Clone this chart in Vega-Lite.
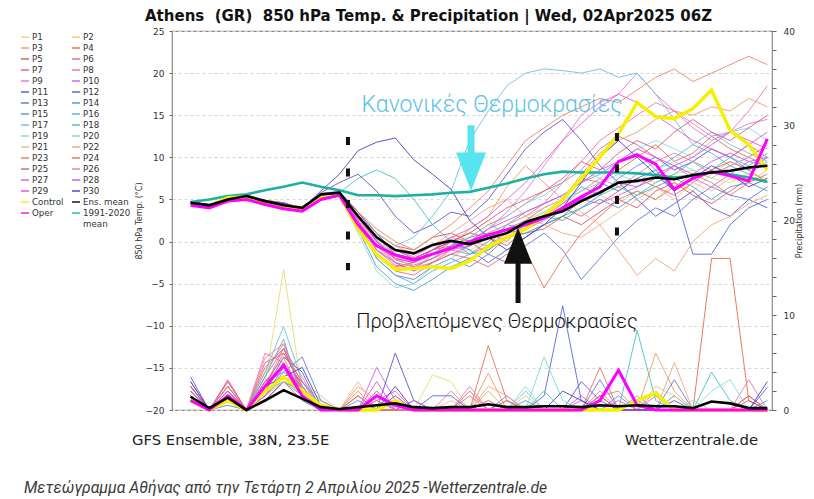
{
"$schema":"https://vega.github.io/schema/vega-lite/v6.json",
"width":600,"height":379,
"autosize":"none",
"padding":{"left":172,"top":31,"right":42,"bottom":89},
"background":"#ffffff",
"config":{"view":{"stroke":"#8a8a8a","strokeWidth":1.2},"font":"DejaVu Sans","axis":{"labelFont":"DejaVu Sans","titleFont":"DejaVu Sans","labelColor":"#333333","titleColor":"#333333","titleFontWeight":"normal","domain":false,"tickColor":"#666666"}},
"title":{"text":"Athens\u00a0 (GR)\u00a0 850 hPa Temp. & Precipitation | Wed, 02Apr2025 06Z","frame":"group","anchor":"start","dx":-27,"offset":3,"fontSize":15,"fontWeight":"bold","font":"DejaVu Sans","color":"#111111"},
"datasets":{
"ens":[
{"s":"P1","h":12,"t":4.5,"p":1.5},{"s":"P1","h":24,"t":4.2,"p":0},{"s":"P1","h":36,"t":5.1,"p":1},{"s":"P1","h":48,"t":5.3,"p":0},{"s":"P1","h":60,"t":4.9,"p":3},{"s":"P1","h":72,"t":4.4,"p":14.8},{"s":"P1","h":84,"t":3.9,"p":2},{"s":"P1","h":96,"t":5.5,"p":0.5},{"s":"P1","h":108,"t":5.7,"p":0},{"s":"P1","h":120,"t":2.5,"p":0},{"s":"P1","h":132,"t":-1,"p":0},{"s":"P1","h":144,"t":-2.5,"p":0},{"s":"P1","h":156,"t":-3,"p":0},{"s":"P1","h":168,"t":-2,"p":3.7},{"s":"P1","h":180,"t":-1.5,"p":3},{"s":"P1","h":192,"t":-1,"p":0},{"s":"P1","h":204,"t":0,"p":0},{"s":"P1","h":216,"t":1.5,"p":0},{"s":"P1","h":228,"t":2.5,"p":0},{"s":"P1","h":240,"t":3,"p":0},{"s":"P1","h":252,"t":4,"p":0},{"s":"P1","h":264,"t":5,"p":0},{"s":"P1","h":276,"t":6,"p":0},{"s":"P1","h":288,"t":6.5,"p":0},{"s":"P1","h":300,"t":7.5,"p":0},{"s":"P1","h":312,"t":7,"p":0},{"s":"P1","h":324,"t":8,"p":0},{"s":"P1","h":336,"t":8.5,"p":0},{"s":"P1","h":348,"t":7.5,"p":0},{"s":"P1","h":360,"t":7,"p":0},{"s":"P1","h":372,"t":8,"p":0},{"s":"P1","h":384,"t":7.5,"p":0},
{"s":"P2","h":12,"t":4.7,"p":2},{"s":"P2","h":24,"t":4.4,"p":0},{"s":"P2","h":36,"t":5,"p":2},{"s":"P2","h":48,"t":5.5,"p":0},{"s":"P2","h":60,"t":4.7,"p":2},{"s":"P2","h":72,"t":4.6,"p":4},{"s":"P2","h":84,"t":3.7,"p":3},{"s":"P2","h":96,"t":5.7,"p":1},{"s":"P2","h":108,"t":5.9,"p":0},{"s":"P2","h":120,"t":3.5,"p":2},{"s":"P2","h":132,"t":0.5,"p":0},{"s":"P2","h":144,"t":-2,"p":0},{"s":"P2","h":156,"t":-2.5,"p":0},{"s":"P2","h":168,"t":-1,"p":0},{"s":"P2","h":180,"t":0.5,"p":0},{"s":"P2","h":192,"t":1,"p":0},{"s":"P2","h":204,"t":2.5,"p":2},{"s":"P2","h":216,"t":0.5,"p":0},{"s":"P2","h":228,"t":2,"p":1.5},{"s":"P2","h":240,"t":3.5,"p":0},{"s":"P2","h":252,"t":2.5,"p":0},{"s":"P2","h":264,"t":4,"p":0},{"s":"P2","h":276,"t":5.5,"p":0},{"s":"P2","h":288,"t":4.5,"p":0},{"s":"P2","h":300,"t":6,"p":0},{"s":"P2","h":312,"t":5,"p":1.5},{"s":"P2","h":324,"t":7,"p":0},{"s":"P2","h":336,"t":6,"p":0},{"s":"P2","h":348,"t":8,"p":0},{"s":"P2","h":360,"t":9.5,"p":0},{"s":"P2","h":372,"t":8.5,"p":0},{"s":"P2","h":384,"t":10,"p":0},
{"s":"P3","h":12,"t":4.6,"p":1},{"s":"P3","h":24,"t":4.3,"p":0},{"s":"P3","h":36,"t":5.2,"p":1.5},{"s":"P3","h":48,"t":5.4,"p":0},{"s":"P3","h":60,"t":4.8,"p":4},{"s":"P3","h":72,"t":4.3,"p":7},{"s":"P3","h":84,"t":4,"p":2.5},{"s":"P3","h":96,"t":5.6,"p":0},{"s":"P3","h":108,"t":5.8,"p":0},{"s":"P3","h":120,"t":3,"p":2.5},{"s":"P3","h":132,"t":0,"p":1},{"s":"P3","h":144,"t":-2.5,"p":0},{"s":"P3","h":156,"t":-3.5,"p":0},{"s":"P3","h":168,"t":-1.5,"p":0},{"s":"P3","h":180,"t":-0.5,"p":0},{"s":"P3","h":192,"t":1.5,"p":0},{"s":"P3","h":204,"t":3,"p":3.9},{"s":"P3","h":216,"t":6.5,"p":0},{"s":"P3","h":228,"t":9,"p":0},{"s":"P3","h":240,"t":7,"p":0},{"s":"P3","h":252,"t":5,"p":0},{"s":"P3","h":264,"t":8,"p":0},{"s":"P3","h":276,"t":10.5,"p":0},{"s":"P3","h":288,"t":12,"p":0},{"s":"P3","h":300,"t":13,"p":0},{"s":"P3","h":312,"t":14.5,"p":6},{"s":"P3","h":324,"t":15.5,"p":2},{"s":"P3","h":336,"t":15,"p":0},{"s":"P3","h":348,"t":16,"p":0},{"s":"P3","h":360,"t":15.5,"p":0},{"s":"P3","h":372,"t":17,"p":0},{"s":"P3","h":384,"t":16,"p":0},
{"s":"P4","h":12,"t":4.5,"p":2},{"s":"P4","h":24,"t":4.4,"p":0},{"s":"P4","h":36,"t":4.9,"p":2.5},{"s":"P4","h":48,"t":5.3,"p":0},{"s":"P4","h":60,"t":4.9,"p":1},{"s":"P4","h":72,"t":4.6,"p":3},{"s":"P4","h":84,"t":3.9,"p":1},{"s":"P4","h":96,"t":5.5,"p":0},{"s":"P4","h":108,"t":5.9,"p":0},{"s":"P4","h":120,"t":2,"p":0},{"s":"P4","h":132,"t":-1.5,"p":0},{"s":"P4","h":144,"t":-3,"p":0},{"s":"P4","h":156,"t":-2.5,"p":0},{"s":"P4","h":168,"t":-1,"p":0},{"s":"P4","h":180,"t":0,"p":0},{"s":"P4","h":192,"t":-0.5,"p":0},{"s":"P4","h":204,"t":1,"p":0},{"s":"P4","h":216,"t":0,"p":0},{"s":"P4","h":228,"t":2.5,"p":0},{"s":"P4","h":240,"t":4,"p":0},{"s":"P4","h":252,"t":5,"p":0},{"s":"P4","h":264,"t":7.5,"p":0},{"s":"P4","h":276,"t":7,"p":1.5},{"s":"P4","h":288,"t":8.5,"p":0},{"s":"P4","h":300,"t":10,"p":0},{"s":"P4","h":312,"t":11.5,"p":0},{"s":"P4","h":324,"t":9.5,"p":0},{"s":"P4","h":336,"t":10.5,"p":0},{"s":"P4","h":348,"t":12.5,"p":16},{"s":"P4","h":360,"t":11,"p":16},{"s":"P4","h":372,"t":10,"p":1},{"s":"P4","h":384,"t":11.5,"p":0},
{"s":"P5","h":12,"t":4.7,"p":2.5},{"s":"P5","h":24,"t":4.3,"p":0},{"s":"P5","h":36,"t":5,"p":2},{"s":"P5","h":48,"t":5.6,"p":0},{"s":"P5","h":60,"t":4.8,"p":2},{"s":"P5","h":72,"t":4.5,"p":5},{"s":"P5","h":84,"t":3.8,"p":1.5},{"s":"P5","h":96,"t":5.7,"p":0},{"s":"P5","h":108,"t":5.8,"p":0},{"s":"P5","h":120,"t":3.5,"p":0},{"s":"P5","h":132,"t":1,"p":0},{"s":"P5","h":144,"t":-0.5,"p":0},{"s":"P5","h":156,"t":-1,"p":0},{"s":"P5","h":168,"t":0.5,"p":0},{"s":"P5","h":180,"t":1,"p":0},{"s":"P5","h":192,"t":0,"p":0},{"s":"P5","h":204,"t":-1.5,"p":1},{"s":"P5","h":216,"t":0.5,"p":0},{"s":"P5","h":228,"t":1,"p":0},{"s":"P5","h":240,"t":1.5,"p":0},{"s":"P5","h":252,"t":3,"p":0},{"s":"P5","h":264,"t":2,"p":0},{"s":"P5","h":276,"t":3.5,"p":1.5},{"s":"P5","h":288,"t":5,"p":0},{"s":"P5","h":300,"t":4,"p":0},{"s":"P5","h":312,"t":6,"p":0},{"s":"P5","h":324,"t":7,"p":0},{"s":"P5","h":336,"t":5.5,"p":0},{"s":"P5","h":348,"t":4.5,"p":0},{"s":"P5","h":360,"t":6,"p":0},{"s":"P5","h":372,"t":7.5,"p":1},{"s":"P5","h":384,"t":7,"p":0},
{"s":"P6","h":12,"t":4.6,"p":1.5},{"s":"P6","h":24,"t":4.2,"p":0},{"s":"P6","h":36,"t":5.1,"p":3},{"s":"P6","h":48,"t":5.4,"p":0},{"s":"P6","h":60,"t":4.7,"p":3.5},{"s":"P6","h":72,"t":4.4,"p":6.5},{"s":"P6","h":84,"t":3.6,"p":2},{"s":"P6","h":96,"t":5.6,"p":0},{"s":"P6","h":108,"t":5.7,"p":0},{"s":"P6","h":120,"t":2.8,"p":0},{"s":"P6","h":132,"t":0,"p":2},{"s":"P6","h":144,"t":-1.5,"p":0},{"s":"P6","h":156,"t":-2,"p":0},{"s":"P6","h":168,"t":-1,"p":0},{"s":"P6","h":180,"t":-0.5,"p":0},{"s":"P6","h":192,"t":0.5,"p":1.5},{"s":"P6","h":204,"t":2,"p":0},{"s":"P6","h":216,"t":3,"p":0},{"s":"P6","h":228,"t":4.5,"p":0},{"s":"P6","h":240,"t":6,"p":0},{"s":"P6","h":252,"t":7,"p":0},{"s":"P6","h":264,"t":8.5,"p":0},{"s":"P6","h":276,"t":11,"p":0},{"s":"P6","h":288,"t":12.5,"p":0},{"s":"P6","h":300,"t":11.5,"p":1},{"s":"P6","h":312,"t":10,"p":0},{"s":"P6","h":324,"t":8.5,"p":0},{"s":"P6","h":336,"t":9.5,"p":0},{"s":"P6","h":348,"t":11,"p":0},{"s":"P6","h":360,"t":10,"p":0},{"s":"P6","h":372,"t":11.5,"p":0},{"s":"P6","h":384,"t":10,"p":0},
{"s":"P7","h":12,"t":4.4,"p":2},{"s":"P7","h":24,"t":4.3,"p":0},{"s":"P7","h":36,"t":5,"p":2.5},{"s":"P7","h":48,"t":5.3,"p":0},{"s":"P7","h":60,"t":4.8,"p":5},{"s":"P7","h":72,"t":4.6,"p":6},{"s":"P7","h":84,"t":3.9,"p":3},{"s":"P7","h":96,"t":5.5,"p":0.5},{"s":"P7","h":108,"t":5.6,"p":0},{"s":"P7","h":120,"t":2.5,"p":1.5},{"s":"P7","h":132,"t":-0.5,"p":0},{"s":"P7","h":144,"t":-2,"p":0},{"s":"P7","h":156,"t":-2.5,"p":0},{"s":"P7","h":168,"t":-1.5,"p":0},{"s":"P7","h":180,"t":0,"p":0},{"s":"P7","h":192,"t":1,"p":0},{"s":"P7","h":204,"t":0.5,"p":0},{"s":"P7","h":216,"t":-0.5,"p":1},{"s":"P7","h":228,"t":1.5,"p":0},{"s":"P7","h":240,"t":3,"p":0},{"s":"P7","h":252,"t":4,"p":0},{"s":"P7","h":264,"t":3,"p":0},{"s":"P7","h":276,"t":4.5,"p":0},{"s":"P7","h":288,"t":6,"p":0},{"s":"P7","h":300,"t":7.5,"p":0},{"s":"P7","h":312,"t":6.5,"p":0},{"s":"P7","h":324,"t":5.5,"p":0},{"s":"P7","h":336,"t":7,"p":0},{"s":"P7","h":348,"t":8.5,"p":0},{"s":"P7","h":360,"t":9.5,"p":0},{"s":"P7","h":372,"t":8.5,"p":1.5},{"s":"P7","h":384,"t":7,"p":0},
{"s":"P8","h":12,"t":4.7,"p":3},{"s":"P8","h":24,"t":4.4,"p":0},{"s":"P8","h":36,"t":5.1,"p":3.2},{"s":"P8","h":48,"t":5.5,"p":0},{"s":"P8","h":60,"t":4.9,"p":6},{"s":"P8","h":72,"t":4.5,"p":5},{"s":"P8","h":84,"t":3.7,"p":2},{"s":"P8","h":96,"t":5.6,"p":0},{"s":"P8","h":108,"t":5.8,"p":0},{"s":"P8","h":120,"t":3.2,"p":0},{"s":"P8","h":132,"t":0.2,"p":0},{"s":"P8","h":144,"t":-2.2,"p":0},{"s":"P8","h":156,"t":-2.8,"p":0},{"s":"P8","h":168,"t":-2,"p":0},{"s":"P8","h":180,"t":-1,"p":2},{"s":"P8","h":192,"t":-1.5,"p":0},{"s":"P8","h":204,"t":-0.5,"p":0},{"s":"P8","h":216,"t":2,"p":0},{"s":"P8","h":228,"t":3,"p":0},{"s":"P8","h":240,"t":4.5,"p":0},{"s":"P8","h":252,"t":7,"p":0},{"s":"P8","h":264,"t":9.5,"p":0},{"s":"P8","h":276,"t":12,"p":2},{"s":"P8","h":288,"t":13.5,"p":0},{"s":"P8","h":300,"t":15,"p":0},{"s":"P8","h":312,"t":16.5,"p":0},{"s":"P8","h":324,"t":15.5,"p":0},{"s":"P8","h":336,"t":13.5,"p":0},{"s":"P8","h":348,"t":12,"p":0},{"s":"P8","h":360,"t":13,"p":0},{"s":"P8","h":372,"t":15.5,"p":3.2},{"s":"P8","h":384,"t":18.5,"p":0},
{"s":"P9","h":12,"t":4.6,"p":1},{"s":"P9","h":24,"t":4.3,"p":0},{"s":"P9","h":36,"t":4.9,"p":1.5},{"s":"P9","h":48,"t":5.4,"p":0},{"s":"P9","h":60,"t":4.8,"p":2.5},{"s":"P9","h":72,"t":4.5,"p":6.5},{"s":"P9","h":84,"t":3.8,"p":3.5},{"s":"P9","h":96,"t":5.7,"p":0},{"s":"P9","h":108,"t":5.9,"p":0},{"s":"P9","h":120,"t":3,"p":0},{"s":"P9","h":132,"t":0.5,"p":0},{"s":"P9","h":144,"t":-1,"p":1.5},{"s":"P9","h":156,"t":-1.8,"p":0},{"s":"P9","h":168,"t":-0.5,"p":0},{"s":"P9","h":180,"t":0.5,"p":0},{"s":"P9","h":192,"t":0,"p":0},{"s":"P9","h":204,"t":1.5,"p":0},{"s":"P9","h":216,"t":3.5,"p":0},{"s":"P9","h":228,"t":6,"p":0},{"s":"P9","h":240,"t":9,"p":0},{"s":"P9","h":252,"t":12,"p":0},{"s":"P9","h":264,"t":15,"p":0},{"s":"P9","h":276,"t":16.5,"p":0},{"s":"P9","h":288,"t":17.5,"p":0},{"s":"P9","h":300,"t":20,"p":0},{"s":"P9","h":312,"t":17.5,"p":2},{"s":"P9","h":324,"t":15.5,"p":0},{"s":"P9","h":336,"t":14,"p":0},{"s":"P9","h":348,"t":12.5,"p":0},{"s":"P9","h":360,"t":13,"p":0},{"s":"P9","h":372,"t":14,"p":0},{"s":"P9","h":384,"t":14.5,"p":0},
{"s":"P10","h":12,"t":4.5,"p":1.5},{"s":"P10","h":24,"t":4.4,"p":0},{"s":"P10","h":36,"t":5,"p":1},{"s":"P10","h":48,"t":5.2,"p":0},{"s":"P10","h":60,"t":4.9,"p":1.5},{"s":"P10","h":72,"t":4.4,"p":4},{"s":"P10","h":84,"t":3.8,"p":2.5},{"s":"P10","h":96,"t":5.5,"p":0},{"s":"P10","h":108,"t":5.7,"p":0},{"s":"P10","h":120,"t":2.2,"p":0},{"s":"P10","h":132,"t":-1,"p":4.5},{"s":"P10","h":144,"t":-2.8,"p":1},{"s":"P10","h":156,"t":-3.2,"p":0},{"s":"P10","h":168,"t":-2.5,"p":0},{"s":"P10","h":180,"t":-1,"p":0},{"s":"P10","h":192,"t":-0.5,"p":0},{"s":"P10","h":204,"t":0.5,"p":0},{"s":"P10","h":216,"t":1.5,"p":0},{"s":"P10","h":228,"t":2.5,"p":0},{"s":"P10","h":240,"t":3,"p":0},{"s":"P10","h":252,"t":4,"p":0},{"s":"P10","h":264,"t":5,"p":1},{"s":"P10","h":276,"t":4.5,"p":0},{"s":"P10","h":288,"t":5.5,"p":0},{"s":"P10","h":300,"t":6.5,"p":0},{"s":"P10","h":312,"t":8,"p":0},{"s":"P10","h":324,"t":9,"p":0},{"s":"P10","h":336,"t":7.5,"p":0},{"s":"P10","h":348,"t":6.5,"p":0},{"s":"P10","h":360,"t":8,"p":0},{"s":"P10","h":372,"t":9.5,"p":0},{"s":"P10","h":384,"t":9,"p":0},
{"s":"P11","h":12,"t":4.7,"p":3.5},{"s":"P11","h":24,"t":4.3,"p":0},{"s":"P11","h":36,"t":5.1,"p":1.5},{"s":"P11","h":48,"t":5.5,"p":0},{"s":"P11","h":60,"t":4.8,"p":1},{"s":"P11","h":72,"t":4.6,"p":3},{"s":"P11","h":84,"t":3.9,"p":2},{"s":"P11","h":96,"t":5.8,"p":0},{"s":"P11","h":108,"t":7,"p":0},{"s":"P11","h":120,"t":8,"p":0},{"s":"P11","h":132,"t":6,"p":0},{"s":"P11","h":144,"t":3,"p":6},{"s":"P11","h":156,"t":1,"p":1},{"s":"P11","h":168,"t":2,"p":0},{"s":"P11","h":180,"t":3.5,"p":0},{"s":"P11","h":192,"t":3,"p":0},{"s":"P11","h":204,"t":5,"p":0},{"s":"P11","h":216,"t":8,"p":0},{"s":"P11","h":228,"t":11,"p":0},{"s":"P11","h":240,"t":13,"p":0},{"s":"P11","h":252,"t":14.5,"p":0},{"s":"P11","h":264,"t":12,"p":3},{"s":"P11","h":276,"t":9,"p":1},{"s":"P11","h":288,"t":7,"p":0},{"s":"P11","h":300,"t":5,"p":0},{"s":"P11","h":312,"t":3,"p":0},{"s":"P11","h":324,"t":4.5,"p":1},{"s":"P11","h":336,"t":6,"p":0},{"s":"P11","h":348,"t":4,"p":0},{"s":"P11","h":360,"t":3,"p":0},{"s":"P11","h":372,"t":5,"p":0},{"s":"P11","h":384,"t":4,"p":0},
{"s":"P12","h":12,"t":4.6,"p":2.5},{"s":"P12","h":24,"t":4.2,"p":0},{"s":"P12","h":36,"t":5,"p":1},{"s":"P12","h":48,"t":5.4,"p":0},{"s":"P12","h":60,"t":4.7,"p":2},{"s":"P12","h":72,"t":4.5,"p":5.6},{"s":"P12","h":84,"t":3.8,"p":4},{"s":"P12","h":96,"t":5.6,"p":0},{"s":"P12","h":108,"t":5.9,"p":0},{"s":"P12","h":120,"t":3.5,"p":0},{"s":"P12","h":132,"t":1,"p":0},{"s":"P12","h":144,"t":-1.5,"p":0},{"s":"P12","h":156,"t":-2,"p":0},{"s":"P12","h":168,"t":-1,"p":1.5},{"s":"P12","h":180,"t":0,"p":1.5},{"s":"P12","h":192,"t":-1,"p":0},{"s":"P12","h":204,"t":-2.5,"p":0},{"s":"P12","h":216,"t":-1,"p":0},{"s":"P12","h":228,"t":0.5,"p":0},{"s":"P12","h":240,"t":2,"p":1.5},{"s":"P12","h":252,"t":3,"p":11},{"s":"P12","h":264,"t":5,"p":1},{"s":"P12","h":276,"t":7,"p":0},{"s":"P12","h":288,"t":6,"p":0},{"s":"P12","h":300,"t":7.5,"p":0},{"s":"P12","h":312,"t":8.5,"p":0},{"s":"P12","h":324,"t":6,"p":0},{"s":"P12","h":336,"t":-1.5,"p":0},{"s":"P12","h":348,"t":-1.5,"p":0},{"s":"P12","h":360,"t":2,"p":0},{"s":"P12","h":372,"t":4,"p":0},{"s":"P12","h":384,"t":5,"p":2.4},
{"s":"P13","h":12,"t":4.5,"p":2},{"s":"P13","h":24,"t":4.4,"p":0},{"s":"P13","h":36,"t":4.9,"p":0.5},{"s":"P13","h":48,"t":5.3,"p":0},{"s":"P13","h":60,"t":4.9,"p":3},{"s":"P13","h":72,"t":4.4,"p":4},{"s":"P13","h":84,"t":3.7,"p":5.6},{"s":"P13","h":96,"t":5.7,"p":1},{"s":"P13","h":108,"t":5.8,"p":0},{"s":"P13","h":120,"t":2.5,"p":0},{"s":"P13","h":132,"t":-2,"p":1.5},{"s":"P13","h":144,"t":-4,"p":0},{"s":"P13","h":156,"t":-4.5,"p":0},{"s":"P13","h":168,"t":-3,"p":0},{"s":"P13","h":180,"t":-2,"p":0},{"s":"P13","h":192,"t":-3,"p":0},{"s":"P13","h":204,"t":-1.5,"p":0},{"s":"P13","h":216,"t":-2.5,"p":0},{"s":"P13","h":228,"t":-0.5,"p":0},{"s":"P13","h":240,"t":1,"p":0},{"s":"P13","h":252,"t":-1,"p":0},{"s":"P13","h":264,"t":-4.5,"p":0},{"s":"P13","h":276,"t":-2,"p":3.2},{"s":"P13","h":288,"t":0.5,"p":0},{"s":"P13","h":300,"t":2.5,"p":0},{"s":"P13","h":312,"t":4,"p":0},{"s":"P13","h":324,"t":3,"p":3.2},{"s":"P13","h":336,"t":5,"p":0},{"s":"P13","h":348,"t":6.5,"p":0},{"s":"P13","h":360,"t":5.5,"p":0},{"s":"P13","h":372,"t":5,"p":0},{"s":"P13","h":384,"t":6.5,"p":0},
{"s":"P14","h":12,"t":4.7,"p":1.5},{"s":"P14","h":24,"t":4.3,"p":0},{"s":"P14","h":36,"t":5,"p":1.5},{"s":"P14","h":48,"t":5.5,"p":0},{"s":"P14","h":60,"t":4.8,"p":1.5},{"s":"P14","h":72,"t":4.6,"p":3.5},{"s":"P14","h":84,"t":3.8,"p":1.5},{"s":"P14","h":96,"t":5.6,"p":0},{"s":"P14","h":108,"t":5.7,"p":0},{"s":"P14","h":120,"t":3,"p":0},{"s":"P14","h":132,"t":0,"p":0},{"s":"P14","h":144,"t":-2,"p":0},{"s":"P14","h":156,"t":-3,"p":0},{"s":"P14","h":168,"t":-2,"p":0},{"s":"P14","h":180,"t":-0.5,"p":0},{"s":"P14","h":192,"t":0.5,"p":0},{"s":"P14","h":204,"t":1,"p":0},{"s":"P14","h":216,"t":2,"p":1.5},{"s":"P14","h":228,"t":1.5,"p":0},{"s":"P14","h":240,"t":3,"p":0},{"s":"P14","h":252,"t":4.5,"p":0},{"s":"P14","h":264,"t":6.5,"p":0},{"s":"P14","h":276,"t":5.5,"p":0},{"s":"P14","h":288,"t":7.5,"p":1.5},{"s":"P14","h":300,"t":9,"p":0},{"s":"P14","h":312,"t":10,"p":0},{"s":"P14","h":324,"t":8.5,"p":0},{"s":"P14","h":336,"t":9.5,"p":0},{"s":"P14","h":348,"t":11,"p":0},{"s":"P14","h":360,"t":10,"p":0},{"s":"P14","h":372,"t":8.5,"p":0},{"s":"P14","h":384,"t":10,"p":1},
{"s":"P15","h":12,"t":4.6,"p":2},{"s":"P15","h":24,"t":4.3,"p":0},{"s":"P15","h":36,"t":5.1,"p":2},{"s":"P15","h":48,"t":5.4,"p":0},{"s":"P15","h":60,"t":4.8,"p":2.5},{"s":"P15","h":72,"t":4.5,"p":4.5},{"s":"P15","h":84,"t":3.9,"p":2.5},{"s":"P15","h":96,"t":5.6,"p":0},{"s":"P15","h":108,"t":5.8,"p":0},{"s":"P15","h":120,"t":1.5,"p":1},{"s":"P15","h":132,"t":-3,"p":0},{"s":"P15","h":144,"t":-5,"p":0},{"s":"P15","h":156,"t":-5.8,"p":0},{"s":"P15","h":168,"t":-4.5,"p":0},{"s":"P15","h":180,"t":-3,"p":0},{"s":"P15","h":192,"t":-2,"p":0},{"s":"P15","h":204,"t":-1,"p":0},{"s":"P15","h":216,"t":0.5,"p":0},{"s":"P15","h":228,"t":1,"p":1},{"s":"P15","h":240,"t":2,"p":0},{"s":"P15","h":252,"t":3,"p":0},{"s":"P15","h":264,"t":4,"p":0},{"s":"P15","h":276,"t":5,"p":0},{"s":"P15","h":288,"t":4,"p":0},{"s":"P15","h":300,"t":5.5,"p":0},{"s":"P15","h":312,"t":6.5,"p":0},{"s":"P15","h":324,"t":7.5,"p":1.5},{"s":"P15","h":336,"t":6.5,"p":0},{"s":"P15","h":348,"t":5,"p":0},{"s":"P15","h":360,"t":6.5,"p":0},{"s":"P15","h":372,"t":7,"p":0},{"s":"P15","h":384,"t":6,"p":0},
{"s":"P16","h":12,"t":4.5,"p":1},{"s":"P16","h":24,"t":4.2,"p":0},{"s":"P16","h":36,"t":5,"p":1.5},{"s":"P16","h":48,"t":5.3,"p":0},{"s":"P16","h":60,"t":4.7,"p":3.5},{"s":"P16","h":72,"t":4.4,"p":7.5},{"s":"P16","h":84,"t":3.7,"p":1},{"s":"P16","h":96,"t":5.5,"p":0},{"s":"P16","h":108,"t":5.9,"p":0},{"s":"P16","h":120,"t":2,"p":0},{"s":"P16","h":132,"t":-2,"p":0},{"s":"P16","h":144,"t":-4,"p":0},{"s":"P16","h":156,"t":-5,"p":1},{"s":"P16","h":168,"t":-3.5,"p":0},{"s":"P16","h":180,"t":-2.5,"p":0},{"s":"P16","h":192,"t":-1.5,"p":0},{"s":"P16","h":204,"t":0,"p":0},{"s":"P16","h":216,"t":2,"p":0},{"s":"P16","h":228,"t":3.5,"p":0},{"s":"P16","h":240,"t":4.5,"p":0},{"s":"P16","h":252,"t":5.5,"p":0},{"s":"P16","h":264,"t":7,"p":0},{"s":"P16","h":276,"t":8,"p":0},{"s":"P16","h":288,"t":9.5,"p":0},{"s":"P16","h":300,"t":10.5,"p":1.5},{"s":"P16","h":312,"t":8.5,"p":0},{"s":"P16","h":324,"t":10,"p":0},{"s":"P16","h":336,"t":11.5,"p":0},{"s":"P16","h":348,"t":10.5,"p":0},{"s":"P16","h":360,"t":9,"p":0},{"s":"P16","h":372,"t":8,"p":0},{"s":"P16","h":384,"t":9.5,"p":0},
{"s":"P17","h":12,"t":4.7,"p":1.5},{"s":"P17","h":24,"t":4.4,"p":0},{"s":"P17","h":36,"t":5,"p":2},{"s":"P17","h":48,"t":5.5,"p":0},{"s":"P17","h":60,"t":4.9,"p":4},{"s":"P17","h":72,"t":4.5,"p":8.8},{"s":"P17","h":84,"t":3.8,"p":3},{"s":"P17","h":96,"t":5.7,"p":0.5},{"s":"P17","h":108,"t":6,"p":0},{"s":"P17","h":120,"t":3.5,"p":0},{"s":"P17","h":132,"t":1,"p":0},{"s":"P17","h":144,"t":-0.5,"p":1},{"s":"P17","h":156,"t":0.5,"p":0},{"s":"P17","h":168,"t":3,"p":0},{"s":"P17","h":180,"t":6,"p":0},{"s":"P17","h":192,"t":12,"p":0},{"s":"P17","h":204,"t":15.5,"p":0},{"s":"P17","h":216,"t":18.5,"p":0},{"s":"P17","h":228,"t":20,"p":2},{"s":"P17","h":240,"t":20.5,"p":0},{"s":"P17","h":252,"t":20.3,"p":0},{"s":"P17","h":264,"t":20,"p":0},{"s":"P17","h":276,"t":20.5,"p":0},{"s":"P17","h":288,"t":19.5,"p":0},{"s":"P17","h":300,"t":20,"p":0},{"s":"P17","h":312,"t":17.5,"p":0},{"s":"P17","h":324,"t":14.5,"p":0},{"s":"P17","h":336,"t":11.5,"p":0},{"s":"P17","h":348,"t":13,"p":0},{"s":"P17","h":360,"t":11.5,"p":0},{"s":"P17","h":372,"t":10.5,"p":0},{"s":"P17","h":384,"t":9.5,"p":0},
{"s":"P18","h":12,"t":4.6,"p":1},{"s":"P18","h":24,"t":4.3,"p":0},{"s":"P18","h":36,"t":4.9,"p":1},{"s":"P18","h":48,"t":5.4,"p":0},{"s":"P18","h":60,"t":4.8,"p":2},{"s":"P18","h":72,"t":4.5,"p":3},{"s":"P18","h":84,"t":3.8,"p":1.5},{"s":"P18","h":96,"t":5.6,"p":0},{"s":"P18","h":108,"t":5.8,"p":0},{"s":"P18","h":120,"t":7.5,"p":0},{"s":"P18","h":132,"t":8.5,"p":0},{"s":"P18","h":144,"t":7.5,"p":0},{"s":"P18","h":156,"t":5,"p":0},{"s":"P18","h":168,"t":2,"p":0},{"s":"P18","h":180,"t":0,"p":0},{"s":"P18","h":192,"t":-1.5,"p":0},{"s":"P18","h":204,"t":-1,"p":0},{"s":"P18","h":216,"t":0.5,"p":0},{"s":"P18","h":228,"t":2,"p":0},{"s":"P18","h":240,"t":3,"p":2},{"s":"P18","h":252,"t":2.5,"p":0},{"s":"P18","h":264,"t":4,"p":0},{"s":"P18","h":276,"t":5.5,"p":0},{"s":"P18","h":288,"t":6.5,"p":0},{"s":"P18","h":300,"t":5.5,"p":8.4},{"s":"P18","h":312,"t":7,"p":1},{"s":"P18","h":324,"t":8,"p":0},{"s":"P18","h":336,"t":9.5,"p":0},{"s":"P18","h":348,"t":8.5,"p":4},{"s":"P18","h":360,"t":10,"p":1},{"s":"P18","h":372,"t":9,"p":0},{"s":"P18","h":384,"t":10.5,"p":0},
{"s":"P19","h":12,"t":4.5,"p":1.5},{"s":"P19","h":24,"t":4.4,"p":0},{"s":"P19","h":36,"t":5.1,"p":2},{"s":"P19","h":48,"t":5.3,"p":0},{"s":"P19","h":60,"t":4.9,"p":3},{"s":"P19","h":72,"t":4.6,"p":5},{"s":"P19","h":84,"t":3.9,"p":2},{"s":"P19","h":96,"t":5.5,"p":0},{"s":"P19","h":108,"t":5.7,"p":0},{"s":"P19","h":120,"t":1,"p":0},{"s":"P19","h":132,"t":-3.5,"p":0},{"s":"P19","h":144,"t":-5.5,"p":0},{"s":"P19","h":156,"t":-5,"p":0},{"s":"P19","h":168,"t":-3,"p":0},{"s":"P19","h":180,"t":-2,"p":0},{"s":"P19","h":192,"t":-0.5,"p":0},{"s":"P19","h":204,"t":1.5,"p":0},{"s":"P19","h":216,"t":3,"p":0},{"s":"P19","h":228,"t":4.5,"p":2.5},{"s":"P19","h":240,"t":5.5,"p":0},{"s":"P19","h":252,"t":7,"p":0},{"s":"P19","h":264,"t":8.5,"p":0},{"s":"P19","h":276,"t":7.5,"p":0},{"s":"P19","h":288,"t":9.5,"p":0},{"s":"P19","h":300,"t":11,"p":0},{"s":"P19","h":312,"t":12,"p":0},{"s":"P19","h":324,"t":11,"p":0},{"s":"P19","h":336,"t":10,"p":0},{"s":"P19","h":348,"t":12,"p":2},{"s":"P19","h":360,"t":13,"p":3.2},{"s":"P19","h":372,"t":13.5,"p":0},{"s":"P19","h":384,"t":12,"p":0},
{"s":"P20","h":12,"t":4.7,"p":2},{"s":"P20","h":24,"t":4.3,"p":0},{"s":"P20","h":36,"t":5,"p":1.5},{"s":"P20","h":48,"t":5.5,"p":0},{"s":"P20","h":60,"t":4.7,"p":2},{"s":"P20","h":72,"t":4.4,"p":4},{"s":"P20","h":84,"t":3.7,"p":2.5},{"s":"P20","h":96,"t":5.7,"p":0},{"s":"P20","h":108,"t":5.9,"p":0},{"s":"P20","h":120,"t":3,"p":0},{"s":"P20","h":132,"t":0,"p":0},{"s":"P20","h":144,"t":-1.5,"p":0},{"s":"P20","h":156,"t":-2.5,"p":0},{"s":"P20","h":168,"t":-1.5,"p":0},{"s":"P20","h":180,"t":-0.5,"p":0},{"s":"P20","h":192,"t":0.5,"p":0},{"s":"P20","h":204,"t":2,"p":0},{"s":"P20","h":216,"t":1,"p":0},{"s":"P20","h":228,"t":2.5,"p":0},{"s":"P20","h":240,"t":3.5,"p":5.6},{"s":"P20","h":252,"t":5,"p":1},{"s":"P20","h":264,"t":6,"p":0},{"s":"P20","h":276,"t":7,"p":0},{"s":"P20","h":288,"t":8,"p":0},{"s":"P20","h":300,"t":7,"p":0},{"s":"P20","h":312,"t":8.5,"p":0},{"s":"P20","h":324,"t":9.5,"p":0},{"s":"P20","h":336,"t":8.5,"p":1},{"s":"P20","h":348,"t":7.5,"p":0},{"s":"P20","h":360,"t":9,"p":0},{"s":"P20","h":372,"t":10,"p":0},{"s":"P20","h":384,"t":9,"p":0},
{"s":"P21","h":12,"t":4.6,"p":1},{"s":"P21","h":24,"t":4.2,"p":0},{"s":"P21","h":36,"t":5,"p":2},{"s":"P21","h":48,"t":5.4,"p":0},{"s":"P21","h":60,"t":4.8,"p":2.5},{"s":"P21","h":72,"t":4.5,"p":3.5},{"s":"P21","h":84,"t":3.8,"p":3},{"s":"P21","h":96,"t":5.6,"p":1.5},{"s":"P21","h":108,"t":5.8,"p":0},{"s":"P21","h":120,"t":2.5,"p":3},{"s":"P21","h":132,"t":-1,"p":0},{"s":"P21","h":144,"t":-2,"p":0},{"s":"P21","h":156,"t":-3,"p":0},{"s":"P21","h":168,"t":-2.5,"p":0},{"s":"P21","h":180,"t":-1,"p":1},{"s":"P21","h":192,"t":0,"p":0},{"s":"P21","h":204,"t":1,"p":2},{"s":"P21","h":216,"t":2,"p":0},{"s":"P21","h":228,"t":3,"p":0},{"s":"P21","h":240,"t":4,"p":0},{"s":"P21","h":252,"t":5,"p":0},{"s":"P21","h":264,"t":3.5,"p":0},{"s":"P21","h":276,"t":2,"p":0},{"s":"P21","h":288,"t":3.5,"p":0},{"s":"P21","h":300,"t":5,"p":0},{"s":"P21","h":312,"t":6.5,"p":2.5},{"s":"P21","h":324,"t":5,"p":1.5},{"s":"P21","h":336,"t":7,"p":0},{"s":"P21","h":348,"t":6,"p":0},{"s":"P21","h":360,"t":7.5,"p":0},{"s":"P21","h":372,"t":7,"p":0},{"s":"P21","h":384,"t":8.5,"p":0},
{"s":"P22","h":12,"t":4.5,"p":1.5},{"s":"P22","h":24,"t":4.4,"p":0},{"s":"P22","h":36,"t":4.9,"p":1},{"s":"P22","h":48,"t":5.3,"p":0},{"s":"P22","h":60,"t":4.9,"p":1.5},{"s":"P22","h":72,"t":4.6,"p":3},{"s":"P22","h":84,"t":3.9,"p":2},{"s":"P22","h":96,"t":5.5,"p":0},{"s":"P22","h":108,"t":5.7,"p":0},{"s":"P22","h":120,"t":3,"p":2},{"s":"P22","h":132,"t":1,"p":0},{"s":"P22","h":144,"t":-0.5,"p":0},{"s":"P22","h":156,"t":-1.5,"p":0},{"s":"P22","h":168,"t":-0.5,"p":0},{"s":"P22","h":180,"t":1,"p":0},{"s":"P22","h":192,"t":2.5,"p":0},{"s":"P22","h":204,"t":4,"p":2.5},{"s":"P22","h":216,"t":5,"p":1.5},{"s":"P22","h":228,"t":3,"p":0},{"s":"P22","h":240,"t":2,"p":0},{"s":"P22","h":252,"t":1,"p":0},{"s":"P22","h":264,"t":0.5,"p":0},{"s":"P22","h":276,"t":2,"p":0},{"s":"P22","h":288,"t":-1,"p":0},{"s":"P22","h":300,"t":-4,"p":0},{"s":"P22","h":312,"t":-2,"p":0},{"s":"P22","h":324,"t":-3.5,"p":5},{"s":"P22","h":336,"t":0,"p":0},{"s":"P22","h":348,"t":2,"p":0},{"s":"P22","h":360,"t":3,"p":0},{"s":"P22","h":372,"t":4.5,"p":0},{"s":"P22","h":384,"t":5.5,"p":0},
{"s":"P23","h":12,"t":4.6,"p":2},{"s":"P23","h":24,"t":4.3,"p":0},{"s":"P23","h":36,"t":5.1,"p":2.5},{"s":"P23","h":48,"t":5.5,"p":0},{"s":"P23","h":60,"t":4.8,"p":3},{"s":"P23","h":72,"t":4.4,"p":5.5},{"s":"P23","h":84,"t":3.7,"p":1.5},{"s":"P23","h":96,"t":5.6,"p":0},{"s":"P23","h":108,"t":5.9,"p":0},{"s":"P23","h":120,"t":3.5,"p":0},{"s":"P23","h":132,"t":1.5,"p":1},{"s":"P23","h":144,"t":0,"p":0},{"s":"P23","h":156,"t":-1,"p":0},{"s":"P23","h":168,"t":0.5,"p":0},{"s":"P23","h":180,"t":2,"p":0},{"s":"P23","h":192,"t":4,"p":0},{"s":"P23","h":204,"t":6,"p":0},{"s":"P23","h":216,"t":9,"p":1},{"s":"P23","h":228,"t":12,"p":0},{"s":"P23","h":240,"t":13.5,"p":0},{"s":"P23","h":252,"t":15,"p":0},{"s":"P23","h":264,"t":16,"p":0},{"s":"P23","h":276,"t":17,"p":1.5},{"s":"P23","h":288,"t":16.5,"p":2},{"s":"P23","h":300,"t":18,"p":0},{"s":"P23","h":312,"t":19.5,"p":0},{"s":"P23","h":324,"t":20.5,"p":0},{"s":"P23","h":336,"t":19,"p":0},{"s":"P23","h":348,"t":20,"p":0},{"s":"P23","h":360,"t":21,"p":0},{"s":"P23","h":372,"t":22,"p":0},{"s":"P23","h":384,"t":21,"p":0},
{"s":"P24","h":12,"t":4.7,"p":2.5},{"s":"P24","h":24,"t":4.4,"p":0},{"s":"P24","h":36,"t":5,"p":2},{"s":"P24","h":48,"t":5.4,"p":0},{"s":"P24","h":60,"t":4.7,"p":4.5},{"s":"P24","h":72,"t":4.5,"p":6.5},{"s":"P24","h":84,"t":3.8,"p":2},{"s":"P24","h":96,"t":5.7,"p":0},{"s":"P24","h":108,"t":5.8,"p":0},{"s":"P24","h":120,"t":2,"p":1.5},{"s":"P24","h":132,"t":-1.5,"p":0},{"s":"P24","h":144,"t":-3.5,"p":0},{"s":"P24","h":156,"t":-4,"p":0},{"s":"P24","h":168,"t":-2.5,"p":0},{"s":"P24","h":180,"t":-1.5,"p":0},{"s":"P24","h":192,"t":-2,"p":0},{"s":"P24","h":204,"t":-3,"p":6.8},{"s":"P24","h":216,"t":-1.5,"p":1},{"s":"P24","h":228,"t":-1,"p":0},{"s":"P24","h":240,"t":-5.5,"p":0},{"s":"P24","h":252,"t":-2,"p":0},{"s":"P24","h":264,"t":1,"p":0},{"s":"P24","h":276,"t":3,"p":4.5},{"s":"P24","h":288,"t":5,"p":0},{"s":"P24","h":300,"t":6,"p":0},{"s":"P24","h":312,"t":5,"p":0},{"s":"P24","h":324,"t":6.5,"p":0},{"s":"P24","h":336,"t":8,"p":0},{"s":"P24","h":348,"t":7,"p":0},{"s":"P24","h":360,"t":5.5,"p":0},{"s":"P24","h":372,"t":7,"p":0},{"s":"P24","h":384,"t":8,"p":0},
{"s":"P25","h":12,"t":4.5,"p":1.5},{"s":"P25","h":24,"t":4.3,"p":0},{"s":"P25","h":36,"t":4.9,"p":3},{"s":"P25","h":48,"t":5.3,"p":0},{"s":"P25","h":60,"t":4.9,"p":2.5},{"s":"P25","h":72,"t":4.6,"p":6},{"s":"P25","h":84,"t":3.9,"p":2.5},{"s":"P25","h":96,"t":5.5,"p":0},{"s":"P25","h":108,"t":5.7,"p":0},{"s":"P25","h":120,"t":3,"p":0},{"s":"P25","h":132,"t":0.5,"p":0},{"s":"P25","h":144,"t":-1,"p":0},{"s":"P25","h":156,"t":-2,"p":0},{"s":"P25","h":168,"t":-1,"p":0},{"s":"P25","h":180,"t":0,"p":0},{"s":"P25","h":192,"t":1,"p":2},{"s":"P25","h":204,"t":2.5,"p":0},{"s":"P25","h":216,"t":4,"p":0},{"s":"P25","h":228,"t":5,"p":0},{"s":"P25","h":240,"t":6,"p":0},{"s":"P25","h":252,"t":7.5,"p":0},{"s":"P25","h":264,"t":9.5,"p":0},{"s":"P25","h":276,"t":8.5,"p":0},{"s":"P25","h":288,"t":10.5,"p":0},{"s":"P25","h":300,"t":12,"p":0},{"s":"P25","h":312,"t":11,"p":0},{"s":"P25","h":324,"t":13,"p":0},{"s":"P25","h":336,"t":14.5,"p":0},{"s":"P25","h":348,"t":13,"p":0},{"s":"P25","h":360,"t":12,"p":0},{"s":"P25","h":372,"t":13.5,"p":1.5},{"s":"P25","h":384,"t":15,"p":0},
{"s":"P26","h":12,"t":4.6,"p":2},{"s":"P26","h":24,"t":4.2,"p":0},{"s":"P26","h":36,"t":5.1,"p":2.5},{"s":"P26","h":48,"t":5.4,"p":0},{"s":"P26","h":60,"t":4.8,"p":5.5},{"s":"P26","h":72,"t":4.4,"p":7},{"s":"P26","h":84,"t":3.7,"p":1.5},{"s":"P26","h":96,"t":5.6,"p":0},{"s":"P26","h":108,"t":5.8,"p":0},{"s":"P26","h":120,"t":2.8,"p":0},{"s":"P26","h":132,"t":-0.5,"p":2},{"s":"P26","h":144,"t":-2.5,"p":0},{"s":"P26","h":156,"t":-3,"p":0},{"s":"P26","h":168,"t":-2,"p":0},{"s":"P26","h":180,"t":-1,"p":0},{"s":"P26","h":192,"t":0,"p":2.5},{"s":"P26","h":204,"t":-0.5,"p":0},{"s":"P26","h":216,"t":1,"p":0},{"s":"P26","h":228,"t":2,"p":0},{"s":"P26","h":240,"t":3,"p":0},{"s":"P26","h":252,"t":4.5,"p":0},{"s":"P26","h":264,"t":6,"p":0},{"s":"P26","h":276,"t":7.5,"p":0},{"s":"P26","h":288,"t":6.5,"p":0},{"s":"P26","h":300,"t":8,"p":0},{"s":"P26","h":312,"t":9.5,"p":1.5},{"s":"P26","h":324,"t":10.5,"p":0},{"s":"P26","h":336,"t":9.5,"p":0},{"s":"P26","h":348,"t":8,"p":0},{"s":"P26","h":360,"t":9,"p":0},{"s":"P26","h":372,"t":10,"p":0},{"s":"P26","h":384,"t":9,"p":0},
{"s":"P27","h":12,"t":4.7,"p":1},{"s":"P27","h":24,"t":4.3,"p":0},{"s":"P27","h":36,"t":5,"p":1.5},{"s":"P27","h":48,"t":5.5,"p":0},{"s":"P27","h":60,"t":4.8,"p":2},{"s":"P27","h":72,"t":4.5,"p":5},{"s":"P27","h":84,"t":3.8,"p":2},{"s":"P27","h":96,"t":5.6,"p":0},{"s":"P27","h":108,"t":5.9,"p":0},{"s":"P27","h":120,"t":3.5,"p":0},{"s":"P27","h":132,"t":0.5,"p":1},{"s":"P27","h":144,"t":-1.5,"p":2},{"s":"P27","h":156,"t":-2,"p":0},{"s":"P27","h":168,"t":-1,"p":0},{"s":"P27","h":180,"t":0.5,"p":0},{"s":"P27","h":192,"t":1.5,"p":0},{"s":"P27","h":204,"t":3,"p":0},{"s":"P27","h":216,"t":5,"p":0},{"s":"P27","h":228,"t":7,"p":0},{"s":"P27","h":240,"t":9.5,"p":0},{"s":"P27","h":252,"t":12,"p":0},{"s":"P27","h":264,"t":14,"p":0},{"s":"P27","h":276,"t":16,"p":0},{"s":"P27","h":288,"t":17.5,"p":1},{"s":"P27","h":300,"t":16.5,"p":0},{"s":"P27","h":312,"t":15,"p":0},{"s":"P27","h":324,"t":13.5,"p":0},{"s":"P27","h":336,"t":12,"p":0},{"s":"P27","h":348,"t":11,"p":0},{"s":"P27","h":360,"t":10,"p":0},{"s":"P27","h":372,"t":11.5,"p":0},{"s":"P27","h":384,"t":13,"p":0},
{"s":"P28","h":12,"t":4.5,"p":2.5},{"s":"P28","h":24,"t":4.4,"p":0},{"s":"P28","h":36,"t":4.9,"p":1},{"s":"P28","h":48,"t":5.4,"p":0},{"s":"P28","h":60,"t":4.7,"p":1.5},{"s":"P28","h":72,"t":4.6,"p":4.5},{"s":"P28","h":84,"t":3.9,"p":3},{"s":"P28","h":96,"t":5.5,"p":0},{"s":"P28","h":108,"t":5.7,"p":0},{"s":"P28","h":120,"t":2.5,"p":0},{"s":"P28","h":132,"t":-1,"p":0},{"s":"P28","h":144,"t":-2.5,"p":1.5},{"s":"P28","h":156,"t":-3.5,"p":0},{"s":"P28","h":168,"t":-2.5,"p":0},{"s":"P28","h":180,"t":-1.5,"p":0},{"s":"P28","h":192,"t":-0.5,"p":0},{"s":"P28","h":204,"t":0.5,"p":0},{"s":"P28","h":216,"t":1,"p":0},{"s":"P28","h":228,"t":1.5,"p":0},{"s":"P28","h":240,"t":2.5,"p":0},{"s":"P28","h":252,"t":4,"p":0},{"s":"P28","h":264,"t":5,"p":1.5},{"s":"P28","h":276,"t":6,"p":0},{"s":"P28","h":288,"t":7,"p":0},{"s":"P28","h":300,"t":6.5,"p":0},{"s":"P28","h":312,"t":7.5,"p":0},{"s":"P28","h":324,"t":9,"p":0},{"s":"P28","h":336,"t":8,"p":0},{"s":"P28","h":348,"t":9.5,"p":0},{"s":"P28","h":360,"t":10.5,"p":0},{"s":"P28","h":372,"t":9.5,"p":0},{"s":"P28","h":384,"t":10,"p":0},
{"s":"P29","h":12,"t":4.6,"p":1.5},{"s":"P29","h":24,"t":4.3,"p":0},{"s":"P29","h":36,"t":5.1,"p":2},{"s":"P29","h":48,"t":5.3,"p":0},{"s":"P29","h":60,"t":4.9,"p":3},{"s":"P29","h":72,"t":4.5,"p":4.7},{"s":"P29","h":84,"t":3.8,"p":2},{"s":"P29","h":96,"t":5.7,"p":0},{"s":"P29","h":108,"t":5.8,"p":0},{"s":"P29","h":120,"t":3,"p":0},{"s":"P29","h":132,"t":0,"p":3},{"s":"P29","h":144,"t":-2,"p":0},{"s":"P29","h":156,"t":-2.5,"p":1},{"s":"P29","h":168,"t":-1.5,"p":0},{"s":"P29","h":180,"t":-0.5,"p":0},{"s":"P29","h":192,"t":0,"p":0},{"s":"P29","h":204,"t":1.5,"p":0},{"s":"P29","h":216,"t":2.5,"p":0},{"s":"P29","h":228,"t":3.5,"p":0},{"s":"P29","h":240,"t":4.5,"p":0},{"s":"P29","h":252,"t":5.5,"p":0},{"s":"P29","h":264,"t":7,"p":0},{"s":"P29","h":276,"t":8.5,"p":0},{"s":"P29","h":288,"t":9.5,"p":0},{"s":"P29","h":300,"t":11,"p":0},{"s":"P29","h":312,"t":10,"p":0},{"s":"P29","h":324,"t":9,"p":0},{"s":"P29","h":336,"t":10,"p":0},{"s":"P29","h":348,"t":11.5,"p":0},{"s":"P29","h":360,"t":13,"p":0},{"s":"P29","h":372,"t":12,"p":0},{"s":"P29","h":384,"t":11,"p":0},
{"s":"P30","h":12,"t":4.7,"p":3},{"s":"P30","h":24,"t":4.4,"p":0},{"s":"P30","h":36,"t":5,"p":1},{"s":"P30","h":48,"t":5.5,"p":0},{"s":"P30","h":60,"t":4.8,"p":2.5},{"s":"P30","h":72,"t":4.5,"p":3.5},{"s":"P30","h":84,"t":3.9,"p":4.5},{"s":"P30","h":96,"t":6,"p":0.5},{"s":"P30","h":108,"t":8,"p":0},{"s":"P30","h":120,"t":10.8,"p":0},{"s":"P30","h":132,"t":11.8,"p":0},{"s":"P30","h":144,"t":12.3,"p":2.5},{"s":"P30","h":156,"t":9.7,"p":0},{"s":"P30","h":168,"t":8,"p":0},{"s":"P30","h":180,"t":6.2,"p":0},{"s":"P30","h":192,"t":2.5,"p":0},{"s":"P30","h":204,"t":0.5,"p":0},{"s":"P30","h":216,"t":-1,"p":0},{"s":"P30","h":228,"t":0.5,"p":0},{"s":"P30","h":240,"t":2,"p":0},{"s":"P30","h":252,"t":4,"p":2},{"s":"P30","h":264,"t":7,"p":1},{"s":"P30","h":276,"t":10,"p":0},{"s":"P30","h":288,"t":12,"p":0},{"s":"P30","h":300,"t":10,"p":0},{"s":"P30","h":312,"t":8,"p":0},{"s":"P30","h":324,"t":6,"p":0},{"s":"P30","h":336,"t":7.5,"p":0},{"s":"P30","h":348,"t":9,"p":0},{"s":"P30","h":360,"t":8,"p":0},{"s":"P30","h":372,"t":6.5,"p":0},{"s":"P30","h":384,"t":7.5,"p":3},
{"s":"Control","h":12,"t":4.5,"p":1},{"s":"Control","h":24,"t":4.2,"p":0},{"s":"Control","h":36,"t":5.2,"p":1},{"s":"Control","h":48,"t":5.3,"p":0},{"s":"Control","h":60,"t":4.6,"p":2},{"s":"Control","h":72,"t":4.2,"p":3.5},{"s":"Control","h":84,"t":4,"p":2},{"s":"Control","h":96,"t":5.3,"p":0.5},{"s":"Control","h":108,"t":5.5,"p":0},{"s":"Control","h":120,"t":1.5,"p":0},{"s":"Control","h":132,"t":-1.5,"p":0},{"s":"Control","h":144,"t":-3.3,"p":1},{"s":"Control","h":156,"t":-3.2,"p":0},{"s":"Control","h":168,"t":-3,"p":0},{"s":"Control","h":180,"t":-3.2,"p":0},{"s":"Control","h":192,"t":-2.3,"p":0},{"s":"Control","h":204,"t":-0.6,"p":0},{"s":"Control","h":216,"t":0.5,"p":0},{"s":"Control","h":228,"t":1.5,"p":0},{"s":"Control","h":240,"t":3,"p":0},{"s":"Control","h":252,"t":5,"p":0},{"s":"Control","h":264,"t":7.5,"p":0},{"s":"Control","h":276,"t":10,"p":0},{"s":"Control","h":288,"t":12.8,"p":0},{"s":"Control","h":300,"t":16.5,"p":1},{"s":"Control","h":312,"t":14.8,"p":1.8},{"s":"Control","h":324,"t":14.6,"p":0},{"s":"Control","h":336,"t":15.8,"p":0},{"s":"Control","h":348,"t":18,"p":0},{"s":"Control","h":360,"t":13.2,"p":0},{"s":"Control","h":372,"t":11.5,"p":0},{"s":"Control","h":384,"t":8.5,"p":0},
{"s":"Oper","h":12,"t":4.3,"p":1},{"s":"Oper","h":24,"t":4,"p":0},{"s":"Oper","h":36,"t":4.8,"p":1.5},{"s":"Oper","h":48,"t":5,"p":0},{"s":"Oper","h":60,"t":4.4,"p":2.5},{"s":"Oper","h":72,"t":3.9,"p":4.7},{"s":"Oper","h":84,"t":3.6,"p":1.5},{"s":"Oper","h":96,"t":5,"p":0},{"s":"Oper","h":108,"t":5.5,"p":0},{"s":"Oper","h":120,"t":2,"p":0},{"s":"Oper","h":132,"t":-0.5,"p":1.5},{"s":"Oper","h":144,"t":-1.6,"p":0.5},{"s":"Oper","h":156,"t":-2.2,"p":0},{"s":"Oper","h":168,"t":-1.5,"p":0},{"s":"Oper","h":180,"t":-0.8,"p":0},{"s":"Oper","h":192,"t":0,"p":0},{"s":"Oper","h":204,"t":0.8,"p":0},{"s":"Oper","h":216,"t":1.4,"p":0},{"s":"Oper","h":228,"t":2,"p":0},{"s":"Oper","h":240,"t":2.8,"p":0},{"s":"Oper","h":252,"t":4,"p":0},{"s":"Oper","h":264,"t":5.3,"p":0},{"s":"Oper","h":276,"t":6.5,"p":1},{"s":"Oper","h":288,"t":9.5,"p":4.2},{"s":"Oper","h":300,"t":10.3,"p":0.5},{"s":"Oper","h":312,"t":9.2,"p":0},{"s":"Oper","h":324,"t":6.2,"p":0},{"s":"Oper","h":336,"t":7.5,"p":0},{"s":"Oper","h":348,"t":8.3,"p":0},{"s":"Oper","h":360,"t":7.8,"p":0},{"s":"Oper","h":372,"t":7.2,"p":0},{"s":"Oper","h":384,"t":12.2,"p":0},
{"s":"Ens. mean","h":12,"t":4.6,"p":1.4},{"s":"Ens. mean","h":24,"t":4.3,"p":0.2},{"s":"Ens. mean","h":36,"t":5,"p":1.3},{"s":"Ens. mean","h":48,"t":5.4,"p":0},{"s":"Ens. mean","h":60,"t":4.8,"p":1},{"s":"Ens. mean","h":72,"t":4.3,"p":2.1},{"s":"Ens. mean","h":84,"t":4,"p":1.2},{"s":"Ens. mean","h":96,"t":5.6,"p":0.3},{"s":"Ens. mean","h":108,"t":5.8,"p":0.1},{"s":"Ens. mean","h":120,"t":3,"p":0.3},{"s":"Ens. mean","h":132,"t":0.5,"p":0.5},{"s":"Ens. mean","h":144,"t":-1,"p":0.7},{"s":"Ens. mean","h":156,"t":-1.4,"p":0.3},{"s":"Ens. mean","h":168,"t":-0.4,"p":0.2},{"s":"Ens. mean","h":180,"t":0.1,"p":0.3},{"s":"Ens. mean","h":192,"t":-0.3,"p":0.3},{"s":"Ens. mean","h":204,"t":0.4,"p":0.6},{"s":"Ens. mean","h":216,"t":1,"p":0.3},{"s":"Ens. mean","h":228,"t":2.3,"p":0.3},{"s":"Ens. mean","h":240,"t":3,"p":0.4},{"s":"Ens. mean","h":252,"t":3.6,"p":0.4},{"s":"Ens. mean","h":264,"t":4.8,"p":0.3},{"s":"Ens. mean","h":276,"t":5.8,"p":0.5},{"s":"Ens. mean","h":288,"t":7,"p":0.4},{"s":"Ens. mean","h":300,"t":7.2,"p":0.5},{"s":"Ens. mean","h":312,"t":7.6,"p":0.4},{"s":"Ens. mean","h":324,"t":7.4,"p":0.4},{"s":"Ens. mean","h":336,"t":7.9,"p":0.2},{"s":"Ens. mean","h":348,"t":8.2,"p":0.9},{"s":"Ens. mean","h":360,"t":8.4,"p":0.7},{"s":"Ens. mean","h":372,"t":8.8,"p":0.2},{"s":"Ens. mean","h":384,"t":9,"p":0.2},
{"s":"1991-2020 mean","h":12,"t":4.7},{"s":"1991-2020 mean","h":24,"t":5},{"s":"1991-2020 mean","h":36,"t":5.4},{"s":"1991-2020 mean","h":48,"t":5.6},{"s":"1991-2020 mean","h":60,"t":6.1},{"s":"1991-2020 mean","h":72,"t":6.5},{"s":"1991-2020 mean","h":84,"t":7},{"s":"1991-2020 mean","h":96,"t":6.5},{"s":"1991-2020 mean","h":108,"t":6.1},{"s":"1991-2020 mean","h":120,"t":5.5},{"s":"1991-2020 mean","h":132,"t":5.5},{"s":"1991-2020 mean","h":144,"t":5.4},{"s":"1991-2020 mean","h":156,"t":5.5},{"s":"1991-2020 mean","h":168,"t":5.6},{"s":"1991-2020 mean","h":180,"t":5.8},{"s":"1991-2020 mean","h":192,"t":5.9},{"s":"1991-2020 mean","h":204,"t":6.4},{"s":"1991-2020 mean","h":216,"t":6.9},{"s":"1991-2020 mean","h":228,"t":7.5},{"s":"1991-2020 mean","h":240,"t":8},{"s":"1991-2020 mean","h":252,"t":8.3},{"s":"1991-2020 mean","h":264,"t":8.2},{"s":"1991-2020 mean","h":276,"t":8.2},{"s":"1991-2020 mean","h":288,"t":8.2},{"s":"1991-2020 mean","h":300,"t":8.1},{"s":"1991-2020 mean","h":312,"t":7.9},{"s":"1991-2020 mean","h":324,"t":7.6},{"s":"1991-2020 mean","h":336,"t":7.8},{"s":"1991-2020 mean","h":348,"t":8.2},{"s":"1991-2020 mean","h":360,"t":8},{"s":"1991-2020 mean","h":372,"t":7.6},{"s":"1991-2020 mean","h":384,"t":7.1}
],
"ann":[
{"k":"dash","h":113.5,"t":12.4,"t2":-3.4},
{"k":"dash","h":287,"t":12.9,"t2":0.5},
{"k":"shaftC","h":192.9,"t":13.8,"t2":10},
{"k":"headC","h":192.9,"t":8.3},
{"k":"shaftB","h":223.2,"t":-7.3,"t2":-2.4},
{"k":"headB","h":223.2,"t":-0.5},
{"k":"txtC","h":206.4,"t":16.2,"txt":"Κανονικές Θερμοκρασίες"},
{"k":"txtB","h":209.6,"t":-9.55,"txt":"Προβλεπόμενες Θερμοκρασίες"},
{"k":"src","h":-25.8,"t":-23.7,"txt":"GFS Ensemble, 38N, 23.5E"},
{"k":"site","h":378,"t":-23.7,"txt":"Wetterzentrale.de"},
{"k":"cap","h":-95.5,"t":-29.3,"txt":"Μετεώγραμμα Αθήνας από την Τετάρτη 2 Απριλίου 2025 -Wetterzentrale.de"}
]
},
"layer":[
{
"data":{"name":"ens"},
"encoding":{
"x":{"field":"h","type":"quantitative","scale":{"domain":[0,387],"nice":false,"zero":false},
"axis":{"title":"Date (UTC)","values":[0,24,48,72,96,120,144,168,192,216,240,264,288,312,336,360,384],"labelExpr":"datum.value % 48 == 0 ? timeFormat(datetime(2025, 3, 2 + datum.value / 24), '%d%b 00z') : ''","labelFlush":false,"labelOverlap":false,"grid":true,"gridDash":[3,3],"gridColor":"#d6d6d6","tickSize":3,"labelFontSize":9,"titleFontSize":8.5,"labelPadding":2,"titlePadding":1}},
"y":{"field":"t","type":"quantitative","scale":{"domain":[-20,25],"nice":false,"zero":false},
"axis":{"title":"850 hPa Temp. (°C)","values":[-20,-15,-10,-5,0,5,10,15,20,25],"grid":true,"gridDash":[3,3],"gridColor":"#d6d6d6","tickSize":3,"labelFontSize":9,"titleFontSize":8,"labelPadding":5,"titlePadding":2}},
"color":{"field":"s","type":"nominal",
"scale":{"domain":["P1","P2","P3","P4","P5","P6","P7","P8","P9","P10","P11","P12","P13","P14","P15","P16","P17","P18","P19","P20","P21","P22","P23","P24","P25","P26","P27","P28","P29","P30","Control","Ens. mean","Oper","1991-2020 mean"],
"range":["#e6d96a","#f2c46e","#f2955a","#e8643c","#d9505a","#d46a8a","#e8557a","#f06ab4","#e670d6","#d25ae6","#5a4cc8","#4a62d6","#5872d8","#5a86e2","#4a94cc","#56a8dc","#66bce8","#3cc0bc","#84d8da","#6ee0cc","#f0ba86","#f2a274","#f07a5a","#e46a5a","#d45a7a","#ea7aac","#e05ac8","#c452e2","#e444e4","#3a38c6","#f4f000","#000000","#ff00ff","#20b0a0"]},
"legend":{"orient":"none","legendX":-152,"legendY":1,"direction":"horizontal","columns":2,"title":null,"padding":0,"symbolType":"stroke","symbolStrokeWidth":1.6,"symbolSize":64,"labelFontSize":8.7,"labelFont":"DejaVu Sans","labelColor":"#333333","rowPadding":1,"columnPadding":4,"labelOffset":2,"symbolLimit":40,
"labelExpr":"datum.label == '1991-2020 mean' ? ['1991-2020', 'mean'] : datum.label"}}
},
"layer":[
{"transform":[{"filter":"substring(datum.s, 0, 1) == 'P'"}],"mark":{"type":"line","strokeWidth":1,"opacity":0.85}},
{"transform":[{"filter":"datum.s == '1991-2020 mean'"}],"mark":{"type":"line","strokeWidth":2.6}},
{"transform":[{"filter":"datum.s == 'Control'"}],"mark":{"type":"line","strokeWidth":3.5}},
{"transform":[{"filter":"datum.s == 'Oper'"}],"mark":{"type":"line","strokeWidth":3}},
{"transform":[{"filter":"datum.s == 'Ens. mean'"}],"mark":{"type":"line","strokeWidth":2.6}}
]
},
{
"data":{"name":"ens"},
"transform":[{"filter":"isValid(datum.p)"}],
"encoding":{
"x":{"field":"h","type":"quantitative","scale":{"domain":[0,387],"nice":false,"zero":false},"axis":null},
"y":{"field":"p","type":"quantitative","scale":{"domain":[0,40],"nice":false,"zero":false},
"axis":{"orient":"right","title":"Precipitation (mm)","titleAngle":270,"values":[0,2,4,6,8,10,12,14,16,18,20,22,24,26,28,30,32,34,36,38,40],"labelExpr":"datum.value % 10 == 0 ? datum.label : ''","grid":false,"tickSize":4,"labelFontSize":9,"titleFontSize":8,"labelPadding":7,"titlePadding":9}},
"color":{"field":"s","type":"nominal",
"scale":{"domain":["P1","P2","P3","P4","P5","P6","P7","P8","P9","P10","P11","P12","P13","P14","P15","P16","P17","P18","P19","P20","P21","P22","P23","P24","P25","P26","P27","P28","P29","P30","Control","Ens. mean","Oper","1991-2020 mean"],
"range":["#e6d96a","#f2c46e","#f2955a","#e8643c","#d9505a","#d46a8a","#e8557a","#f06ab4","#e670d6","#d25ae6","#5a4cc8","#4a62d6","#5872d8","#5a86e2","#4a94cc","#56a8dc","#66bce8","#3cc0bc","#84d8da","#6ee0cc","#f0ba86","#f2a274","#f07a5a","#e46a5a","#d45a7a","#ea7aac","#e05ac8","#c452e2","#e444e4","#3a38c6","#f4f000","#000000","#ff00ff","#20b0a0"]}}
},
"layer":[
{"transform":[{"filter":"substring(datum.s, 0, 1) == 'P'"}],"mark":{"type":"line","strokeWidth":1,"opacity":0.85}},
{"transform":[{"filter":"datum.s == 'Control'"}],"mark":{"type":"line","strokeWidth":3.5}},
{"transform":[{"filter":"datum.s == 'Oper'"}],"mark":{"type":"line","strokeWidth":3}},
{"transform":[{"filter":"datum.s == 'Ens. mean'"}],"mark":{"type":"line","strokeWidth":2.6}}
]
},
{
"data":{"name":"ann"},
"encoding":{
"x":{"field":"h","type":"quantitative","scale":{"domain":[0,387],"nice":false,"zero":false},"axis":null},
"y":{"field":"t","type":"quantitative","scale":{"domain":[-20,25],"nice":false,"zero":false},"axis":null}
},
"layer":[
{"transform":[{"filter":"datum.k == 'dash'"}],"mark":{"type":"rule","color":"#111111","strokeWidth":4,"strokeDash":[8,23.5]},"encoding":{"y2":{"field":"t2"}}},
{"transform":[{"filter":"datum.k == 'shaftC'"}],"mark":{"type":"rule","color":"#55e4f0","strokeWidth":7},"encoding":{"y2":{"field":"t2"}}},
{"transform":[{"filter":"datum.k == 'headC'"}],"mark":{"type":"point","filled":true,"color":"#55e4f0","opacity":1,"shape":"M-1,-1.27L1,-1.27L0,1.27Z","size":900,"strokeWidth":0}},
{"transform":[{"filter":"datum.k == 'shaftB'"}],"mark":{"type":"rule","color":"#111111","strokeWidth":5},"encoding":{"y2":{"field":"t2"}}},
{"transform":[{"filter":"datum.k == 'headB'"}],"mark":{"type":"point","filled":true,"color":"#111111","opacity":1,"shape":"M-1,1.29L1,1.29L0,-1.29Z","size":784,"strokeWidth":0}},
{"transform":[{"filter":"datum.k == 'txtC'"}],"mark":{"type":"text","font":"Roboto","fontSize":23,"fontWeight":300,"color":"#5cc2ea","align":"center","baseline":"middle"},"encoding":{"text":{"field":"txt"}}},
{"transform":[{"filter":"datum.k == 'txtB'"}],"mark":{"type":"text","font":"Roboto","fontSize":20,"fontWeight":300,"color":"#111111","align":"center","baseline":"middle"},"encoding":{"text":{"field":"txt"}}},
{"transform":[{"filter":"datum.k == 'src'"}],"mark":{"type":"text","font":"DejaVu Sans","fontSize":14.8,"color":"#222222","align":"left","baseline":"middle"},"encoding":{"text":{"field":"txt"}}},
{"transform":[{"filter":"datum.k == 'site'"}],"mark":{"type":"text","font":"DejaVu Sans","fontSize":14.8,"color":"#222222","align":"right","baseline":"middle"},"encoding":{"text":{"field":"txt"}}},
{"transform":[{"filter":"datum.k == 'cap'"}],"mark":{"type":"text","font":"Roboto","fontSize":15.8,"fontStyle":"italic","color":"#3a3a3a","align":"left","baseline":"middle"},"encoding":{"text":{"field":"txt"}}}
]
}
],
"resolve":{"scale":{"y":"independent"}}
}
